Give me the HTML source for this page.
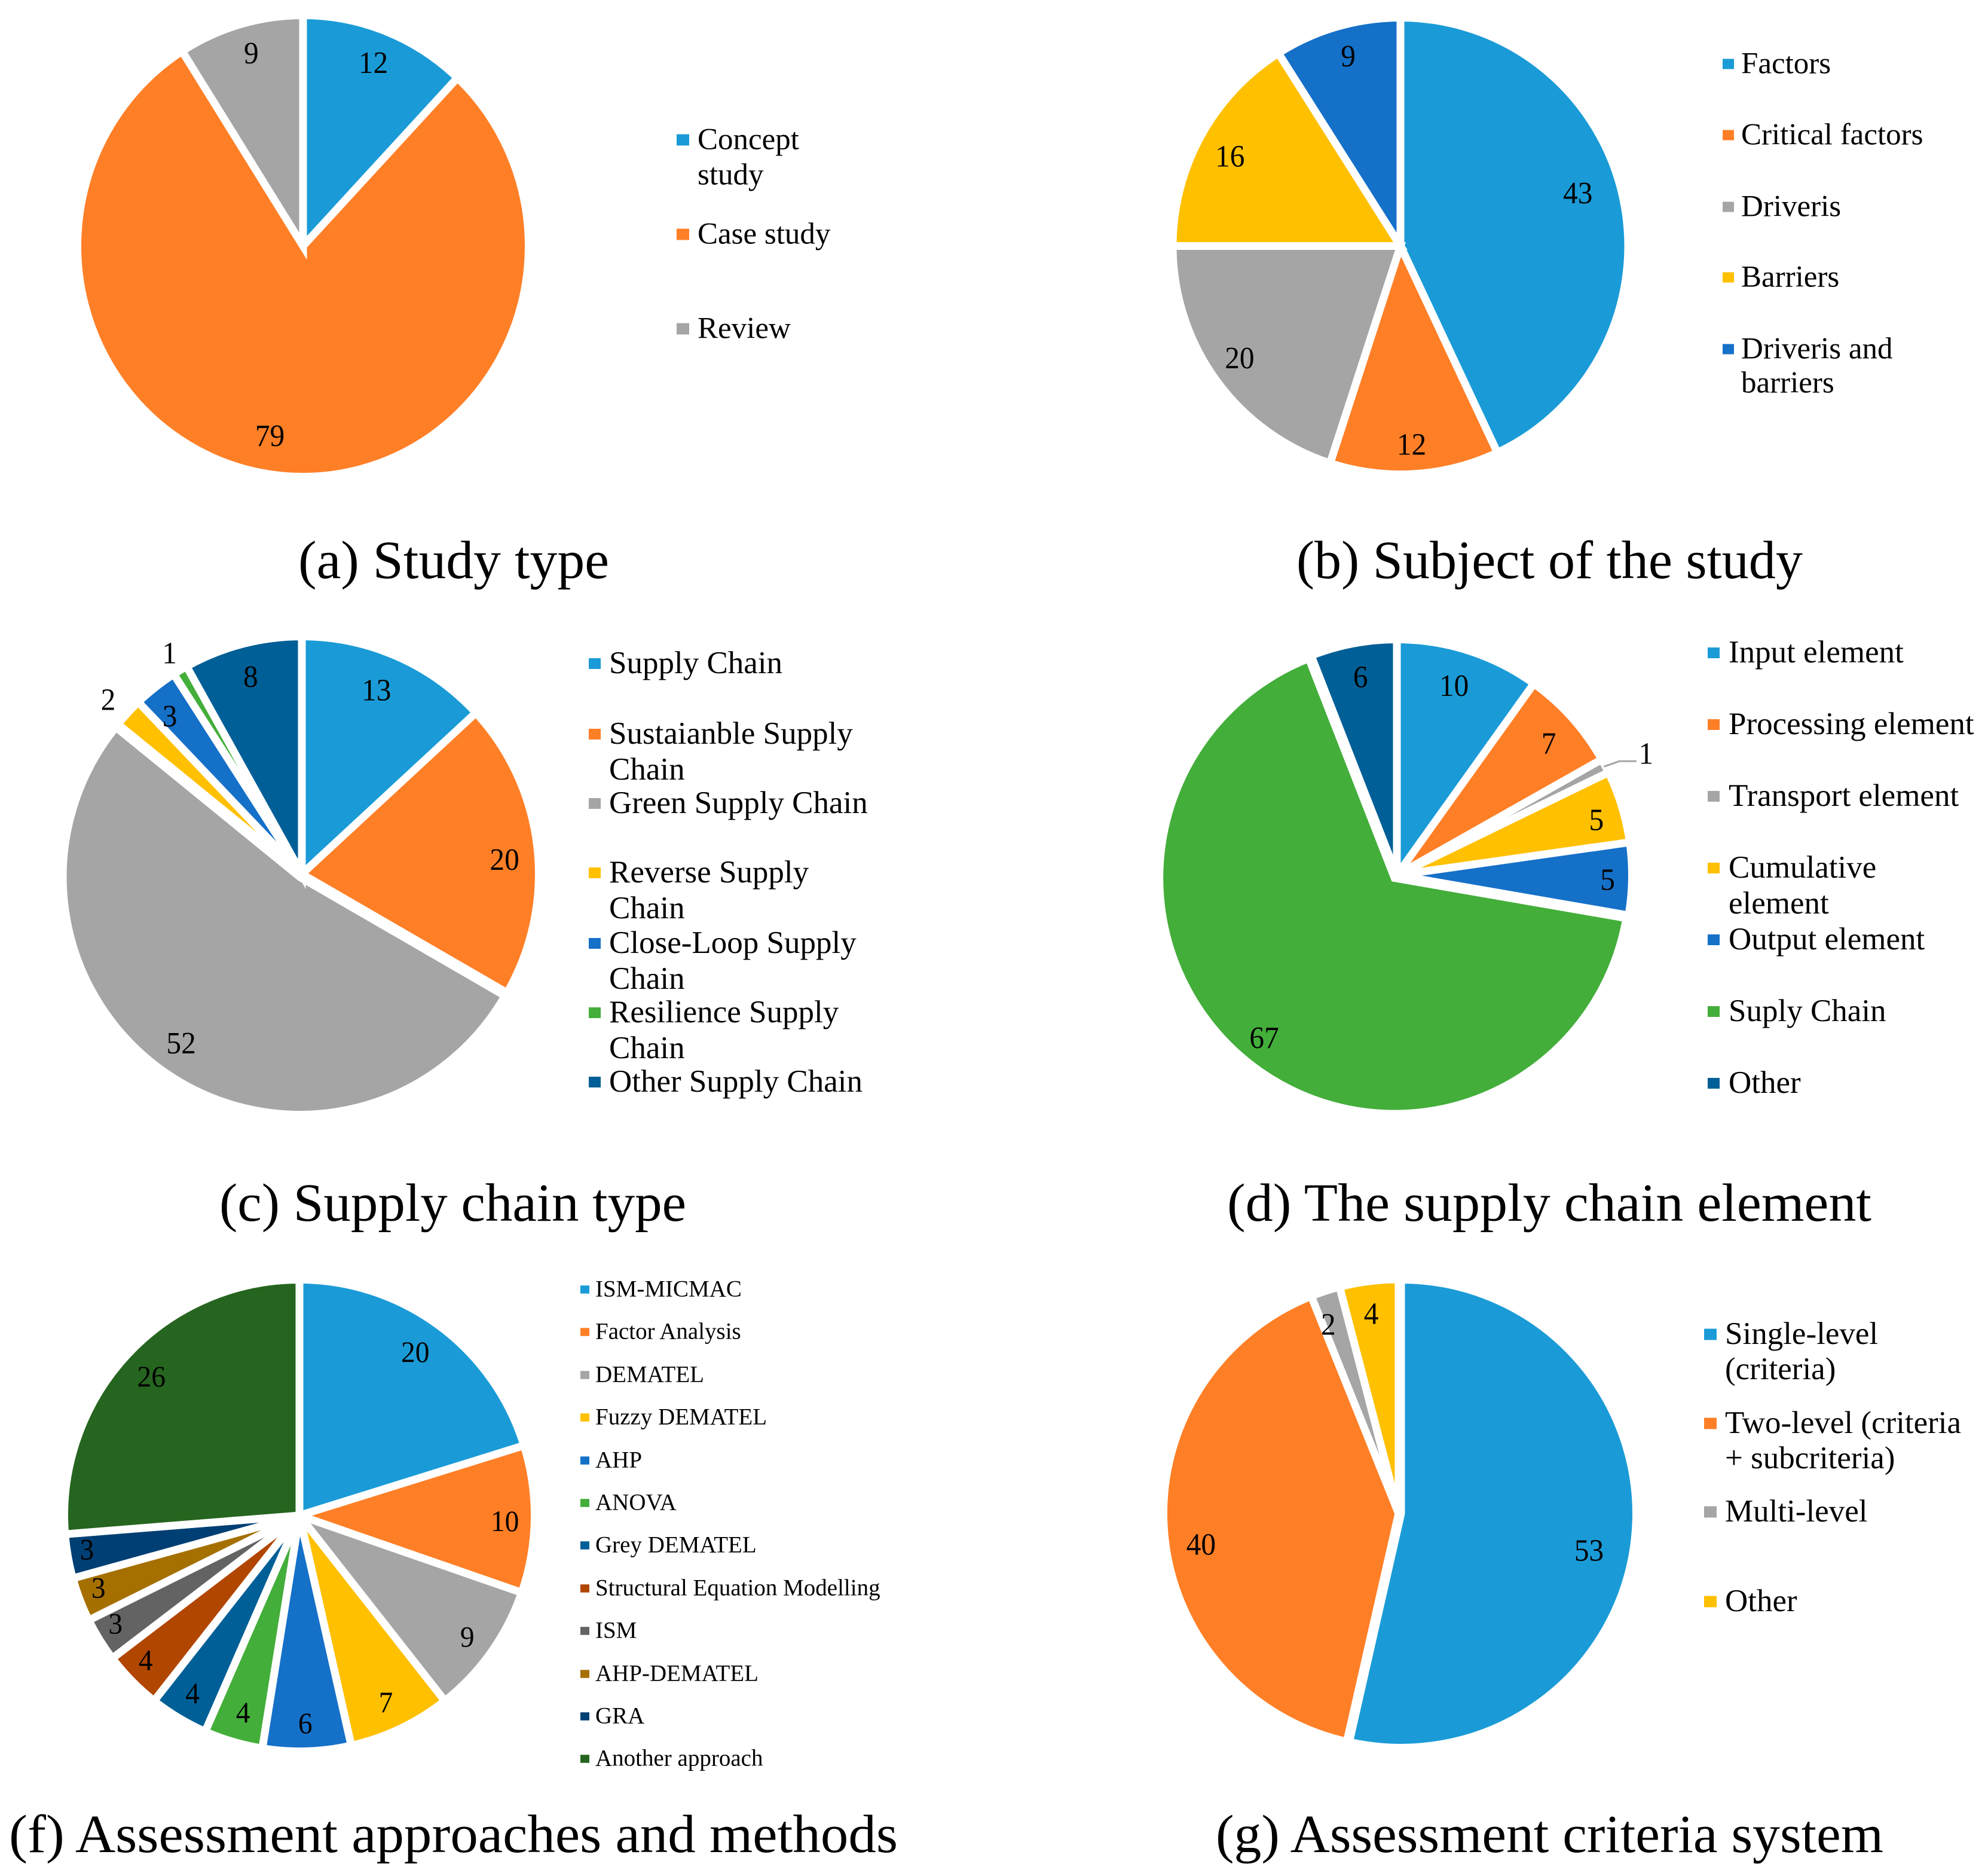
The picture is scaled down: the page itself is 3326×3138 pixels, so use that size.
<!DOCTYPE html>
<html lang="en">
<head>
<meta charset="utf-8">
<title>Pie charts of reviewed supply chain studies</title>
<style>
html,body{margin:0;padding:0;background:#fff}
svg{display:block}
text{font-family:"Liberation Serif",serif;fill:#000}
</style>
</head>
<body>
<svg id="figure" xmlns="http://www.w3.org/2000/svg" width="3326" height="3138" viewBox="0 0 3326 3138">
<rect width="3326" height="3138" fill="#ffffff"/>
<text x="499" y="967" font-size="90" textLength="520" lengthAdjust="spacingAndGlyphs">(a) Study type</text>
<text x="2169" y="967" font-size="90" textLength="847" lengthAdjust="spacingAndGlyphs">(b) Subject of the study</text>
<text x="367" y="2042" font-size="90" textLength="781" lengthAdjust="spacingAndGlyphs">(c) Supply chain type</text>
<text x="2053" y="2042" font-size="90" textLength="1078" lengthAdjust="spacingAndGlyphs">(d) The supply chain element</text>
<text x="15" y="3098" font-size="90" textLength="1487" lengthAdjust="spacingAndGlyphs">(f) Assessment approaches and methods</text>
<text x="2034" y="3098" font-size="90" textLength="1117" lengthAdjust="spacingAndGlyphs">(g) Assessment criteria system</text>
</svg>
<script>
// Chart data
const studyTypeCategories = ["Concept\nstudy", "Case study", "Review"];
const studyTypeValues = [12, 79, 9];

const subjectCategories = ["Factors", "Critical factors", "Driveris", "Barriers", "Driveris and\nbarriers"];
const subjectValues = [43, 12, 20, 16, 9];

const chainTypeCategories = ["Supply Chain", "Sustaianble Supply\nChain", "Green Supply Chain", "Reverse Supply\nChain", "Close-Loop Supply\nChain", "Resilience Supply\nChain", "Other Supply Chain"];
const chainTypeValues = [13, 20, 52, 2, 3, 1, 8];

const elementCategories = ["Input element", "Processing element", "Transport element", "Cumulative\nelement", "Output element", "Suply Chain", "Other"];
const elementValues = [10, 7, 1, 5, 5, 67, 6];

const methodCategories = ["ISM-MICMAC", "Factor Analysis", "DEMATEL", "Fuzzy DEMATEL", "AHP", "ANOVA", "Grey DEMATEL", "Structural Equation Modelling", "ISM", "AHP-DEMATEL", "GRA", "Another approach"];
const methodValues = [20, 10, 9, 7, 6, 4, 4, 4, 3, 3, 3, 26];

const criteriaCategories = ["Single-level\n(criteria)", "Two-level (criteria\n+ subcriteria)", "Multi-level", "Other"];
const criteriaValues = [53, 40, 2, 4];

// Styling and layout (kept apart from the data)
const palette = ["#1A9BD7", "#FF7F27", "#A5A5A5", "#FFC000", "#1570C8", "#43AE3A", "#005F96", "#B14600", "#636363", "#A57000", "#003F73", "#26651F"];
const GAP = 13;
const SVG_NS = "http://www.w3.org/2000/svg";
const figure = document.getElementById("figure");

const charts = [
  {id: "study-type", categories: studyTypeCategories, values: studyTypeValues,
   cx: 507, cy: 411.5, rx: 371, ry: 379.5, labelSize: 52, outside: {}, explode: {},
   nudge: {0: [-2, 2], 1: [-25, -13], 2: [4, -4]},
   legend: {mx: 1132, mw: 21, tx: 1167, size: 51, lh: 59, top: [235, 393, 551]}},
  {id: "subject", categories: subjectCategories, values: subjectValues,
   cx: 2343, cy: 411.5, rx: 374.5, ry: 375.5, labelSize: 52, outside: {}, explode: {},
   nudge: {0: [-23, -17], 1: [-2, 4], 2: [-4, -6], 3: [2, 8], 4: [4, -2]},
   legend: {mx: 2882, mw: 19, tx: 2913, size: 51, lh: 57, top: [108, 227, 347, 465, 585]}},
  {id: "chain-type", categories: chainTypeCategories, values: chainTypeValues,
   cx: 505, cy: 1462, rx: 390, ry: 391, labelSize: 52, outside: {3: 1.11, 5: 1.105}, explode: {2: 6},
   nudge: {0: [-12, 6], 1: [0, 14], 2: [-5, -4], 3: [-6, 3], 4: [-10, 5], 5: [0, 1], 6: [0, 1]},
   legend: {mx: 985, mw: 20, tx: 1019, size: 53, lh: 60, top: [1111, 1229, 1345, 1461, 1579, 1695, 1811]}},
  {id: "element", categories: elementCategories, values: elementValues,
   cx: 2337, cy: 1464, rx: 387, ry: 388, labelSize: 52, outside: {2: 1.21}, leader: 2, explode: {5: 6},
   nudge: {0: [-8, 6], 1: [2, 6], 2: [2, 14], 3: [10, 6], 4: [14, 2], 5: [-4, 4], 6: [2, 2]},
   legend: {mx: 2857, mw: 20, tx: 2892, size: 53, lh: 60, top: [1093, 1213, 1333, 1453, 1573, 1693, 1813]}},
  {id: "method", categories: methodCategories, values: methodValues,
   cx: 501, cy: 2535, rx: 387, ry: 388, labelSize: 50, outside: {}, explode: {},
   nudge: {0: [-7, 0], 1: [5, 4], 2: [5, 6], 3: [-1, 6], 4: [-1, 8], 5: [1, 4], 6: [-5, 6], 7: [-16, 4], 8: [-20, 2], 9: [-20, 0], 10: [-22, -2], 11: [1, -2]},
   legend: {mx: 971, mw: 15, tx: 996, size: 39, lh: 60, top: [2158, 2229, 2301, 2372, 2444, 2515, 2586, 2658, 2729, 2801, 2872, 2943]}},
  {id: "criteria", categories: criteriaCategories, values: criteriaValues,
   cx: 2340, cy: 2531.5, rx: 387, ry: 385, labelSize: 52, outside: {}, explode: {0: 4},
   nudge: {0: [-22, 24], 1: [7, 25], 2: [-12, 4], 3: [-3, 0]},
   legend: {mx: 2851, mw: 21, tx: 2886, size: 53, lh: 59, top: [2233, 2382, 2530, 2680]}}
];

function slug(text) {
  return text.toLowerCase().replace(/[^a-z0-9]+/g, "-").replace(/^-|-$/g, "");
}
function svgEl(tag, parent) {
  const el = document.createElementNS(SVG_NS, tag);
  parent.appendChild(el);
  return el;
}
// Angle axis: value -> angle (clockwise from 12 o'clock)
function angleScale(values) {
  const total = values.reduce((a, b) => a + b, 0);
  return v => v / total * 2 * Math.PI;
}
// Radial axis: angle and radius fraction -> pixel point on the ellipse
function polar(chart, angle, fraction, pad) {
  const extra = pad || 0;
  return [chart.cx + (chart.rx + extra) * fraction * Math.sin(angle),
          chart.cy - (chart.ry + extra) * fraction * Math.cos(angle)];
}

charts.forEach(chart => {
  const group = svgEl("g", figure);
  
  

  const toAngle = angleScale(chart.values);
  const labels = [];
  let running = 0;

  chart.values.forEach((value, i) => {
    const a0 = toAngle(running);
    const a1 = toAngle(running + value);
    running += value;
    const mid = (a0 + a1) / 2;
    const off = chart.explode[i] || 0;
    const ex = off * Math.sin(mid);
    const ey = -off * Math.cos(mid);
    const p0 = polar(chart, a0, 1, GAP / 2);
    const p1 = polar(chart, a1, 1, GAP / 2);
    const large = a1 - a0 > Math.PI ? 1 : 0;

    const slice = svgEl("path", group);
    
    
    slice.setAttribute("d", "M" + (chart.cx + ex).toFixed(2) + " " + (chart.cy + ey).toFixed(2) + "L" + (p0[0] + ex).toFixed(2) + " " + (p0[1] + ey).toFixed(2) +
      "A" + (chart.rx + GAP / 2) + " " + (chart.ry + GAP / 2) + " 0 " + large + " 1 " + (p1[0] + ex).toFixed(2) + " " + (p1[1] + ey).toFixed(2) + "Z");
    slice.setAttribute("fill", palette[i % palette.length]);
    slice.setAttribute("stroke", "#ffffff");
    slice.setAttribute("stroke-width", GAP);
    slice.setAttribute("stroke-linejoin", "miter");
    labels.push({value: value, mid: mid, index: i, ex: ex, ey: ey});
  });

  labels.forEach(item => {
    const fraction = chart.outside[item.index] || 0.875;
    const p = polar(chart, item.mid, fraction);
    const shift = chart.nudge[item.index] || [0, 0];
    const size = chart.labelSize;

    if (chart.leader === item.index) {
      const start = polar(chart, item.mid, 1.01);
      const line = svgEl("polyline", group);
      
      
      line.setAttribute("points", start[0].toFixed(1) + "," + start[1].toFixed(1) + " " + (start[0] + 26).toFixed(1) + "," + (start[1] - 9).toFixed(1) + " " + (p[0] - 14).toFixed(1) + "," + (start[1] - 9).toFixed(1));
      line.setAttribute("fill", "none");
      line.setAttribute("stroke", "#A5A5A5");
      line.setAttribute("stroke-width", "3");
    }

    const label = svgEl("text", group);
    
    
    label.setAttribute("transform", "translate(" + (p[0] + item.ex + shift[0]).toFixed(1) + " " + (p[1] + item.ey + shift[1] + size * 0.33).toFixed(1) + ") scale(0.95 1)");
    label.setAttribute("text-anchor", "middle");
    label.setAttribute("font-size", size);
    label.textContent = item.value;
  });

  const lg = chart.legend;
  chart.categories.forEach((category, i) => {
    const entry = svgEl("g", group);
    
    

    const swatch = svgEl("rect", entry);
    
    
    swatch.setAttribute("x", lg.mx);
    swatch.setAttribute("y", lg.top[i] - lg.mw * 0.45 - 1);
    swatch.setAttribute("width", lg.mw);
    swatch.setAttribute("height", lg.mw * 0.9);
    swatch.setAttribute("fill", palette[i % palette.length]);

    category.split("\n").forEach((line, n) => {
      const t = svgEl("text", entry);
      
      
      t.setAttribute("x", lg.tx);
      t.setAttribute("y", lg.top[i] + n * lg.lh + lg.size * 0.3 - 1);
      t.setAttribute("font-size", lg.size);
      t.textContent = line;
    });
  });
});
</script>
</body>
</html>
